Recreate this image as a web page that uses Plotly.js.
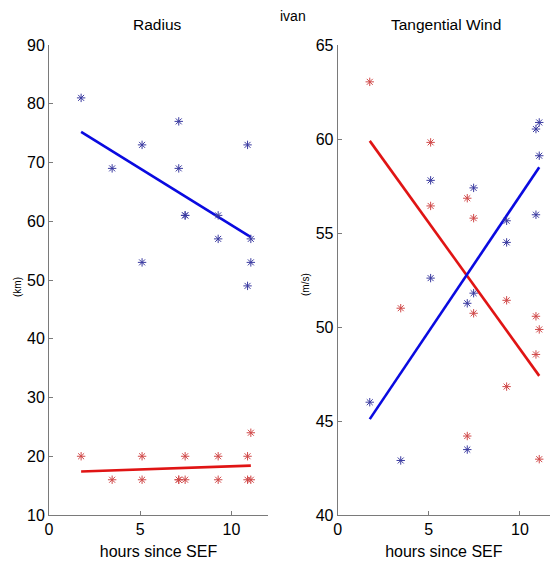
<!DOCTYPE html>
<html>
<head>
<meta charset="utf-8">
<script src="https://cdn.plot.ly/plotly-3.0.1.min.js"></script>
<style>html,body{margin:0;padding:0;background:#fff;}#chart{width:550px;height:561px;}</style>
</head>
<body>
<div id="chart"></div>
<script>
// hours since SEF (shared by all series)
var hours = [1.76, 3.46, 5.1, 5.1, 7.11, 7.11, 7.46, 7.46, 9.27, 9.27, 10.88, 10.88, 11.06, 11.06];

// Radius (km)
var radiusBlue = [81, 69, 73, 53, 77, 69, 61, 61, 61, 57, 73, 49, 57, 53];
var radiusRed  = [20, 16, 20, 16, 16, 16, 20, 16, 20, 16, 20, 16, 24, 16];

// Tangential wind (m/s)
var windBlue = [46.0, 42.9, 57.8, 52.6, 51.26, 43.48, 57.4, 51.8, 55.65, 54.5, 60.53, 55.97, 60.88, 59.11];
var windRed  = [63.04, 51.0, 59.82, 56.44, 56.85, 44.2, 55.79, 50.73, 51.42, 46.83, 50.57, 48.54, 49.87, 42.97];

// Fitted trend lines (end points)
var fitHours = [1.76, 11.06];
var radiusBlueFit = [75.2, 57.3];
var radiusRedFit  = [17.4, 18.4];
var windBlueFit = [45.1, 58.5];
var windRedFit  = [59.9, 47.4];

var markerBlue = '#3a3aa0';
var markerRed = '#d04848';
var lineBlue = '#0a0ae0';
var lineRed = '#e01414';

function pts(x, y, col, xa, ya) {
  return {x: x, y: y, xaxis: xa, yaxis: ya, type: 'scatter', mode: 'markers',
    marker: {symbol: 'asterisk-open', size: 7, color: col, line: {color: col, width: 1}},
    showlegend: false, hoverinfo: 'x+y'};
}
function fit(x, y, col, xa, ya) {
  return {x: x, y: y, xaxis: xa, yaxis: ya, type: 'scatter', mode: 'lines',
    line: {color: col, width: 2.6}, showlegend: false, hoverinfo: 'x+y'};
}

var data = [
  fit(fitHours, radiusBlueFit, lineBlue, 'x', 'y'),
  fit(fitHours, radiusRedFit, lineRed, 'x', 'y'),
  pts(hours, radiusBlue, markerBlue, 'x', 'y'),
  pts(hours, radiusRed, markerRed, 'x', 'y'),
  fit(fitHours, windRedFit, lineRed, 'x2', 'y2'),
  fit(fitHours, windBlueFit, lineBlue, 'x2', 'y2'),
  pts(hours, windBlue, markerBlue, 'x2', 'y2'),
  pts(hours, windRed, markerRed, 'x2', 'y2')
];

var font = {family: '"Liberation Sans", Arial, sans-serif', size: 16, color: '#000'};
var axisCommon = {
  showgrid: false, zeroline: false, showline: true, linecolor: '#7a7a7a', linewidth: 1,
  ticks: 'inside', ticklen: 4, tickcolor: '#7a7a7a', tickfont: font, mirror: false
};

var layout = {
  width: 550, height: 561,
  margin: {l: 49, r: 0, t: 45, b: 46},
  paper_bgcolor: '#fff', plot_bgcolor: '#fff',
  font: font,
  showlegend: false,
  xaxis: Object.assign({}, axisCommon, {domain: [0, 0.4371], range: [0, 12], tickvals: [0, 5, 10],
    title: {text: 'hours since SEF', font: font, standoff: 8}, anchor: 'y'}),
  yaxis: Object.assign({}, axisCommon, {domain: [0, 1], range: [10, 90], dtick: 10, anchor: 'x'}),
  xaxis2: Object.assign({}, axisCommon, {domain: [0.5762, 1], range: [0, 11.65], tickvals: [0, 5, 10],
    title: {text: 'hours since SEF', font: font, standoff: 8}, anchor: 'y2'}),
  yaxis2: Object.assign({}, axisCommon, {domain: [0, 1], range: [40, 65], dtick: 5, anchor: 'x2'}),
  annotations: [
    {text: 'Radius', xref: 'paper', yref: 'paper', x: (157 - 49) / 501, y: (515 - 25) / 470,
      xanchor: 'center', yanchor: 'middle', showarrow: false, font: {family: font.family, size: 15.5, color: '#000'}},
    {text: 'Tangential Wind', xref: 'paper', yref: 'paper', x: (446 - 49) / 501, y: (515 - 25) / 470,
      xanchor: 'center', yanchor: 'middle', showarrow: false, font: {family: font.family, size: 15.5, color: '#000'}},
    {text: 'ivan', xref: 'paper', yref: 'paper', x: (293 - 49) / 501, y: (515 - 16) / 470,
      xanchor: 'center', yanchor: 'middle', showarrow: false, font: {family: font.family, size: 14, color: '#000'}},
    {text: '(km)', xref: 'paper', yref: 'paper', x: (17 - 49) / 501, y: (515 - 287) / 470,
      xanchor: 'center', yanchor: 'middle', textangle: -90, showarrow: false, font: {family: font.family, size: 10, color: '#000'}},
    {text: '(m/s)', xref: 'paper', yref: 'paper', x: (305 - 49) / 501, y: (515 - 285) / 470,
      xanchor: 'center', yanchor: 'middle', textangle: -90, showarrow: false, font: {family: font.family, size: 10, color: '#000'}}
  ]
};

Plotly.newPlot('chart', data, layout, {displayModeBar: false, staticPlot: true});
</script>
</body>
</html>
